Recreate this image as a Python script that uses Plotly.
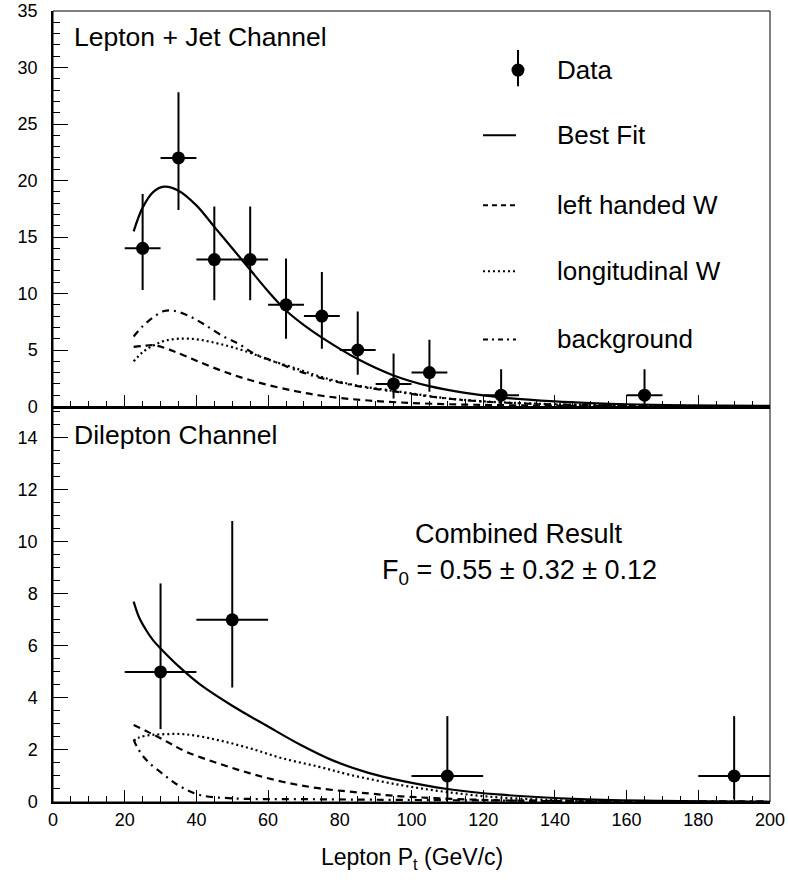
import plotly.graph_objects as go

FONT = "Liberation Sans, Arial, Helvetica, sans-serif"

# ---------------- Lepton + Jet channel (top panel) ----------------
lj_x = [25, 35, 45, 55, 65, 75, 85, 95, 105, 125, 165]
lj_y = [14, 22, 13, 13, 9, 8, 5, 2, 3, 1, 1]
lj_err_up = [4.8, 5.8, 4.7, 4.7, 4.1, 3.9, 3.4, 2.7, 2.9, 2.3, 2.3]
lj_err_dn = [3.7, 4.6, 3.6, 3.6, 3.0, 2.9, 2.2, 1.3, 1.7, 0.9, 0.9]
lj_xerr = [5, 5, 5, 5, 5, 5, 5, 5, 5, 5, 5]

lj_fit_x = [22.5, 25, 28, 31, 35, 40, 45, 50, 55, 60, 65, 70, 75, 85, 95, 105, 115, 125, 140, 150, 160, 175, 200]
lj_fit_y = [15.5, 17.6, 19.0, 19.45, 19.1, 17.8, 15.9, 14.0, 12.1, 10.2, 8.5, 7.2, 6.1, 4.2, 2.75, 1.8, 1.2, 0.8, 0.45, 0.3, 0.2, 0.11, 0.05]

lj_left_x = [22.5, 25, 28, 31, 34, 40, 48, 57, 67, 75, 88, 106, 130, 160, 200]
lj_left_y = [5.27, 5.35, 5.42, 5.2, 4.85, 4.05, 3.05, 2.15, 1.4, 0.95, 0.53, 0.24, 0.1, 0.03, 0.01]

lj_long_x = [22.5, 25, 28, 31, 35, 40, 45, 50, 55, 60, 67, 75, 85, 97, 110, 122, 140, 160, 200]
lj_long_y = [4.0, 4.8, 5.4, 5.8, 6.0, 5.95, 5.65, 5.25, 4.75, 4.15, 3.45, 2.6, 1.85, 1.3, 0.72, 0.42, 0.2, 0.09, 0.02]

lj_bkg_x = [22.5, 25, 28, 31, 34, 38, 42, 47, 52, 56, 62, 68, 75, 85, 97, 110, 122, 140, 160, 200]
lj_bkg_y = [6.2, 7.1, 7.9, 8.45, 8.45, 8.0, 7.3, 6.3, 5.5, 4.7, 3.95, 3.2, 2.5, 1.8, 1.25, 0.7, 0.4, 0.18, 0.08, 0.02]

# ---------------- Dilepton channel (bottom panel) ----------------
dl_x = [30, 50, 110, 190]
dl_y = [5, 7, 1, 1]
dl_err_up = [3.4, 3.8, 2.3, 2.3]
dl_err_dn = [2.2, 2.6, 0.9, 0.9]
dl_xerr = [10, 10, 10, 10]

dl_fit_x = [22.5, 24, 26, 28, 30, 35, 41, 50, 60, 69, 78, 88, 97, 110, 125, 147, 170, 200]
dl_fit_y = [7.7, 7.1, 6.6, 6.2, 5.9, 5.22, 4.52, 3.7, 2.9, 2.2, 1.6, 1.12, 0.82, 0.5, 0.28, 0.11, 0.04, 0.01]

dl_left_x = [22.5, 30, 37, 46, 55, 64, 74, 88, 97, 120, 150, 200]
dl_left_y = [2.96, 2.45, 1.94, 1.49, 1.1, 0.78, 0.53, 0.33, 0.22, 0.08, 0.02, 0.0]

dl_long_x = [22.5, 24, 27, 30, 37, 46, 55, 64, 74, 83, 97, 110, 125, 150, 200]
dl_long_y = [2.35, 2.48, 2.57, 2.6, 2.6, 2.38, 2.06, 1.68, 1.36, 1.04, 0.65, 0.38, 0.17, 0.04, 0.01]

dl_bkg_x = [22.5, 23.5, 26, 31, 35.5, 41, 50, 70, 97, 150, 200]
dl_bkg_y = [2.4, 2.1, 1.62, 1.04, 0.6, 0.27, 0.14, 0.11, 0.08, 0.04, 0.02]

x_ticks = [0, 20, 40, 60, 80, 100, 120, 140, 160, 180, 200]

legend_names = ["Data", "Best Fit", "left handed W", "longitudinal W", "background"]

curve_styles = {
    "Best Fit": dict(color="black", width=2.2, dash="solid"),
    "left handed W": dict(color="black", width=2.2, dash="7px,5px"),
    "longitudinal W": dict(color="black", width=2.2, dash="2px,3px"),
    "background": dict(color="black", width=2.2, dash="7px,5px,2px,5px"),
}
legend_dash = {
    "Best Fit": "solid",
    "left handed W": "5px,4px",
    "longitudinal W": "2px,3px",
    "background": "5px,4px,2px,4px",
}

fig = go.Figure()

def add_panel(xa, ya, dx, dy, eu, ed, ex, curves):
    fig.add_trace(go.Scatter(
        x=dx, y=dy, mode="markers", name="Data", xaxis=xa, yaxis=ya,
        marker=dict(color="black", size=13),
        error_y=dict(type="data", symmetric=False, array=eu, arrayminus=ed,
                     color="black", thickness=2, width=0),
        error_x=dict(type="data", array=ex, color="black", thickness=2, width=0),
        showlegend=False))
    for name, cx, cy in curves:
        fig.add_trace(go.Scatter(
            x=cx, y=cy, mode="lines", name=name, xaxis=xa, yaxis=ya,
            line=dict(shape="spline", smoothing=1.0, **curve_styles[name]),
            showlegend=False))

add_panel("x", "y", lj_x, lj_y, lj_err_up, lj_err_dn, lj_xerr, [
    ("Best Fit", lj_fit_x, lj_fit_y),
    ("left handed W", lj_left_x, lj_left_y),
    ("longitudinal W", lj_long_x, lj_long_y),
    ("background", lj_bkg_x, lj_bkg_y),
])

add_panel("x2", "y2", dl_x, dl_y, dl_err_up, dl_err_dn, dl_xerr, [
    ("Best Fit", dl_fit_x, dl_fit_y),
    ("left handed W", dl_left_x, dl_left_y),
    ("longitudinal W", dl_long_x, dl_long_y),
    ("background", dl_bkg_x, dl_bkg_y),
])

xcommon = dict(range=[0, 200], tickvals=x_ticks, showline=True, linewidth=2,
               linecolor="black", ticks="inside", ticklen=12, tickwidth=1,
               tickcolor="black", showgrid=False, zeroline=False, automargin=False,
               ticklabeloverflow="allow",
               minor=dict(dtick=5, tick0=0, ticks="inside", ticklen=6,
                          tickcolor="black", tickwidth=1, showgrid=False))
ycommon = dict(showline=True, linewidth=1.5, linecolor="black", ticks="inside",
               ticklen=15, tickwidth=1, tickcolor="black", showgrid=False,
               zeroline=False, ticklabelstandoff=10, automargin=False,
               ticklabeloverflow="allow",
               tickfont=dict(family=FONT, size=18, color="black"))

fig.update_layout(
    width=788, height=880,
    margin=dict(l=53, r=18, t=11, b=78, autoexpand=False),
    paper_bgcolor="white", plot_bgcolor="white",
    font=dict(family=FONT, color="black"),
    xaxis=dict(domain=[0, 1], anchor="y", showticklabels=False, **xcommon),
    yaxis=dict(domain=[0.5, 1], anchor="x", range=[0, 35], dtick=5, tick0=0,
               minor=dict(dtick=1, ticks="inside", ticklen=7, tickcolor="black",
                          tickwidth=1, showgrid=False), **ycommon),
    xaxis2=dict(domain=[0, 1], anchor="y2", matches="x", showticklabels=True,
                tickfont=dict(family=FONT, size=18, color="black"),
                ticklabelstandoff=0,
                **xcommon),
    yaxis2=dict(domain=[0, 0.5], anchor="x2", range=[0, 15.2], dtick=2, tick0=0,
                minor=dict(dtick=0.5, ticks="inside", ticklen=7, tickcolor="black",
                           tickwidth=1, showgrid=False), **ycommon),
    showlegend=False,
)

# frames (thin top/right borders)
for xr, yr in (("x domain", "y domain"), ("x2 domain", "y2 domain")):
    fig.add_shape(type="rect", xref=xr, yref=yr, x0=0, x1=1, y0=0, y1=1,
                  line=dict(color="black", width=1), layer="above")

# ---- legend key (top panel, drawn as layout decoration) ----
leg_rows = [0.8506, 0.6861, 0.5089, 0.3418, 0.1696]
leg_line_x0, leg_line_x1 = 0.5997, 0.6457
leg_text_x = 0.7001
dref = dict(xref="x domain", yref="y domain")
# data key: marker with vertical error bar
fig.add_shape(type="line", x0=0.6485, x1=0.6485, y0=leg_rows[0] - 0.041,
              y1=leg_rows[0] + 0.051, line=dict(color="black", width=2), **dref)
fig.add_shape(type="circle", xsizemode="pixel", ysizemode="pixel",
              xanchor=0.6485, yanchor=leg_rows[0], x0=-6.5, x1=6.5, y0=-6.5, y1=6.5,
              fillcolor="black", line=dict(color="black", width=0), **dref)
for name, yy in zip(legend_names[1:], leg_rows[1:]):
    fig.add_shape(type="line", x0=leg_line_x0, x1=leg_line_x1, y0=yy, y1=yy,
                  line=dict(color="black", width=2, dash=legend_dash[name]), **dref)
for name, yy in zip(legend_names, leg_rows):
    fig.add_annotation(x=leg_text_x, y=yy, xanchor="left", yanchor="middle",
                       showarrow=False, text=name,
                       font=dict(family=FONT, size=26, color="black"), **dref)

fig.add_annotation(xref="x domain", yref="y domain", x=0.026, y=0.935,
                   xanchor="left", yanchor="middle", showarrow=False,
                   text="Lepton + Jet Channel",
                   font=dict(family=FONT, size=26.5, color="black"))
fig.add_annotation(xref="x2 domain", yref="y2 domain", x=0.026, y=0.929,
                   xanchor="left", yanchor="middle", showarrow=False,
                   text="Dilepton Channel",
                   font=dict(family=FONT, size=26.5, color="black"))
fig.add_annotation(xref="x2", yref="y2", x=130, y=10.3,
                   xanchor="center", yanchor="middle", showarrow=False,
                   text="Combined Result",
                   font=dict(family=FONT, size=27, color="black"))
fig.add_annotation(xref="x2", yref="y2", x=130, y=8.85,
                   xanchor="center", yanchor="middle", showarrow=False,
                   text="F<sub>0</sub> = 0.55 ± 0.32 ± 0.12",
                   font=dict(family=FONT, size=27, color="black"))
# x-axis title
fig.add_annotation(xref="paper", yref="paper", x=0.5, y=-0.071,
                   xanchor="center", yanchor="middle", showarrow=False,
                   text="Lepton P<sub>t</sub> (GeV/c)",
                   font=dict(family=FONT, size=23, color="black"))

fig.write_html("out.html",
               config={"displayModeBar": False},
               post_script="document.body.style.margin='0px';"
                           "document.body.style.overflow='hidden';")
